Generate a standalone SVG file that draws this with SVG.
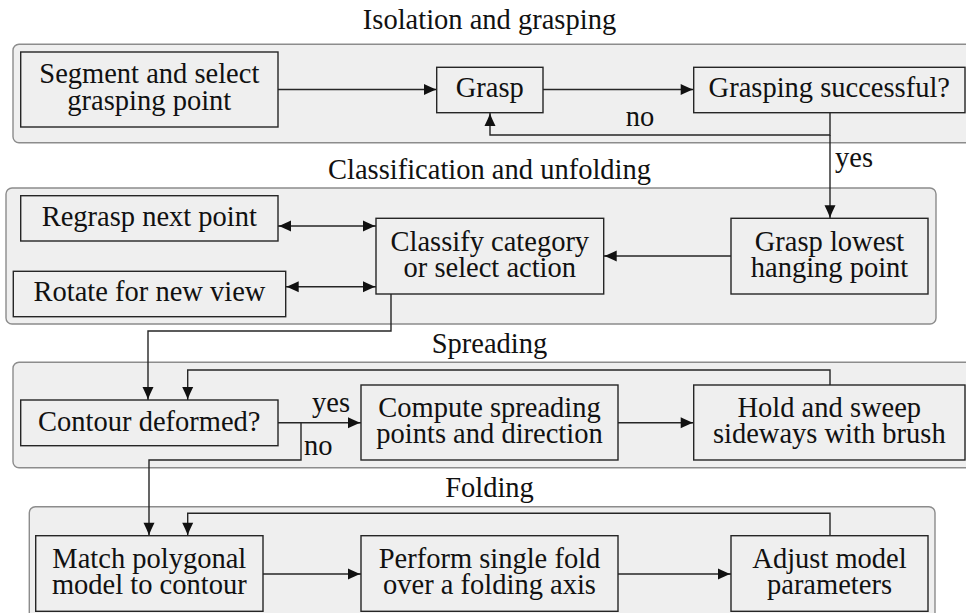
<svg xmlns="http://www.w3.org/2000/svg" width="966" height="613" viewBox="0 0 966 613">
  <style>
    .stage { fill: #efefef; stroke: #8c8c8c; stroke-width: 1.4; }
    .box { fill: #efefef; stroke: #262626; stroke-width: 1.4; }
    text { font-family: 'Liberation Serif', 'DejaVu Serif', serif; font-size: 28.5px; fill: #111; }
    .c { text-anchor: middle; }
    .wire { fill: none; stroke: #262626; stroke-width: 1.4; }
    .arrow { marker-end: url(#head); }
    .both { marker-start: url(#head); marker-end: url(#head); }
  </style>
  <defs>
    <marker id="head" markerUnits="userSpaceOnUse" markerWidth="16" markerHeight="14" viewBox="-14 -7 16 14" refX="0" refY="0" orient="auto-start-reverse">
      <path d="M0 0 C-4 -1.2 -9 -3.5 -13 -5.5 L-13 5.5 C-9 3.5 -4 1.2 0 0 Z" fill="#111"/>
    </marker>
  </defs>

  <!-- stage panels -->
  <g id="stages">
    <rect class="stage" x="13" y="44.3" width="970" height="98.4" rx="6"/>
    <rect class="stage" x="6" y="188" width="930" height="136" rx="6"/>
    <rect class="stage" x="13" y="362.3" width="970" height="105.4" rx="6"/>
    <rect class="stage" x="29.3" y="506.7" width="905.7" height="130" rx="6"/>
  </g>

  <!-- stage titles -->
  <g id="titles">
    <text class="c" x="489.5" y="29">Isolation and grasping</text>
    <text class="c" x="489.5" y="179">Classification and unfolding</text>
    <text class="c" x="489.5" y="353">Spreading</text>
    <text class="c" x="489.5" y="496.5">Folding</text>
  </g>

  <!-- connectors -->
  <g id="connectors">
    <path class="wire arrow" d="M278 89.5 H437"/>
    <path class="wire arrow" d="M543 89.5 H693.7"/>
    <path class="wire arrow" d="M830 113 V135 H490 V113"/>
    <path class="wire arrow" d="M830 135 V218.3"/>
    <text class="c" x="640" y="126">no</text>
    <text x="835" y="167">yes</text>

    <path class="wire arrow" d="M731 256 H603.7"/>
    <path class="wire both" d="M278 226 H376"/>
    <path class="wire both" d="M285.7 286.7 H376"/>
    <path class="wire arrow" d="M391 294 V331 H148 V400"/>

    <path class="wire arrow" d="M278 422.7 H361"/>
    <text x="312" y="411.7">yes</text>
    <path class="wire arrow" d="M830 385 V370 H187.7 V400"/>
    <path class="wire arrow" d="M618 422.7 H693.7"/>
    <path class="wire arrow" d="M301 422.7 V460 H149 V535.7"/>
    <text x="304" y="455">no</text>

    <path class="wire arrow" d="M263 574 H361"/>
    <path class="wire arrow" d="M618 574 H731"/>
    <path class="wire arrow" d="M830 535.7 V513.3 H187.7 V535.7"/>
  </g>

  <!-- nodes -->
  <g id="segment">
    <rect class="box" x="20.7" y="52" width="257.3" height="75"/>
    <text class="c" x="149.3" y="83">Segment and select</text>
    <text class="c" x="149.3" y="110">grasping point</text>
  </g>
  <g id="grasp">
    <rect class="box" x="436.7" y="67.3" width="106.3" height="45.4"/>
    <text class="c" x="489.8" y="97">Grasp</text>
  </g>
  <g id="grasp-check">
    <rect class="box" x="693.7" y="67.3" width="271.3" height="45.4"/>
    <text class="c" x="829.3" y="97">Grasping successful?</text>
  </g>

  <g id="regrasp">
    <rect class="box" x="20.7" y="195.7" width="257.3" height="45.3"/>
    <text class="c" x="149.3" y="225.5">Regrasp next point</text>
  </g>
  <g id="rotate">
    <rect class="box" x="13.3" y="271.3" width="272.4" height="45.4"/>
    <text class="c" x="149.5" y="301">Rotate for new view</text>
  </g>
  <g id="classify">
    <rect class="box" x="376" y="218.3" width="227.7" height="75.7"/>
    <text class="c" x="489.8" y="251">Classify category</text>
    <text class="c" x="489.8" y="277">or select action</text>
  </g>
  <g id="grasp-lowest">
    <rect class="box" x="731" y="218.3" width="197" height="75.7"/>
    <text class="c" x="829.5" y="251">Grasp lowest</text>
    <text class="c" x="829.5" y="277">hanging point</text>
  </g>

  <g id="contour-check">
    <rect class="box" x="20.7" y="400" width="257.3" height="45.7"/>
    <text class="c" x="149.3" y="431">Contour deformed?</text>
  </g>
  <g id="compute">
    <rect class="box" x="361" y="385" width="257" height="75"/>
    <text class="c" x="489.5" y="416.5">Compute spreading</text>
    <text class="c" x="489.5" y="443">points and direction</text>
  </g>
  <g id="sweep">
    <rect class="box" x="693.7" y="385" width="271.3" height="75"/>
    <text class="c" x="829.3" y="416.5">Hold and sweep</text>
    <text class="c" x="829.3" y="443">sideways with brush</text>
  </g>

  <g id="match">
    <rect class="box" x="35.7" y="535.7" width="227.3" height="75.6"/>
    <text class="c" x="149.3" y="567.5">Match polygonal</text>
    <text class="c" x="149.3" y="594">model to contour</text>
  </g>
  <g id="fold">
    <rect class="box" x="361" y="535.7" width="257" height="75.6"/>
    <text class="c" x="489.5" y="567.5">Perform single fold</text>
    <text class="c" x="489.5" y="594">over a folding axis</text>
  </g>
  <g id="adjust">
    <rect class="box" x="731" y="535.7" width="197" height="75.6"/>
    <text class="c" x="829.5" y="567.5">Adjust model</text>
    <text class="c" x="829.5" y="594">parameters</text>
  </g>
</svg>
